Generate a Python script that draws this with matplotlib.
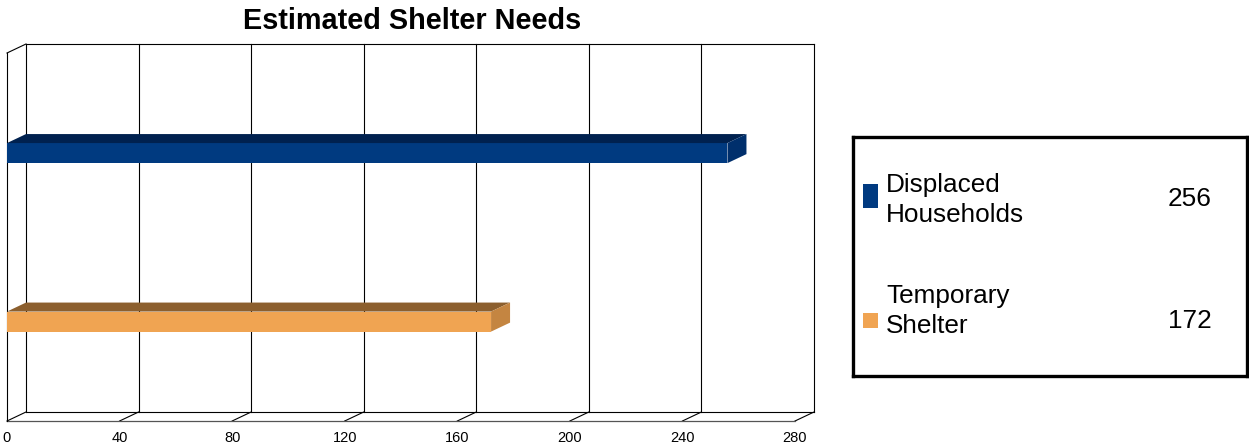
import matplotlib
matplotlib.use("Agg")
import matplotlib.pyplot as plt
from matplotlib.patches import Polygon, Rectangle

plt.rcParams["font.family"] = ["Liberation Sans", "DejaVu Sans"]

# data
categories = ["Temporary\nShelter", "Displaced\nHouseholds"]
values = [172, 256]
front_colors = ["#F0A452", "#003A80"]
top_colors = ["#8C5F2E", "#00214F"]
side_colors = ["#C48541", "#002F6C"]
xticks = [0, 40, 80, 120, 160, 200, 240, 280]

W, H = 1249, 447
fig = plt.figure(figsize=(W / 100, H / 100), dpi=100)

# front plane of the pseudo-3d box, in pixel geometry
fx0, fx1, fy_bot, fy_top = 7, 795, 421, 53
ax = fig.add_axes((fx0 / W, (H - fy_bot) / H, (fx1 - fx0) / W, (fy_bot - fy_top) / H))
ax.set_xlim(0, 280)
y0, y1 = -0.59, 1.594
ax.set_ylim(y0, y1)
for s in ax.spines.values():
    s.set_visible(False)
ax.set_yticks([])
ax.set_xticks(xticks)
ax.set_xticklabels([str(t) for t in xticks], fontsize=10.5)
ax.tick_params(axis="x", length=0, pad=7)
ax.patch.set_alpha(0)

# depth offset (about 19 px right, 9 px up)
DX = 19 / ((fx1 - fx0) / 280)
DY = 9 / ((fy_bot - fy_top) / (y1 - y0))

kw = dict(color="#000000", lw=0.8, clip_on=False, zorder=1)
kw_floor = dict(color="#555555", lw=0.9, clip_on=False, zorder=1)
# back wall verticals and floor
for t in xticks:
    ax.plot([t + DX, t + DX], [y0 + DY, y1 + DY], **kw)
    ax.plot([t, t + DX], [y0, y0 + DY], **kw)
ax.plot([DX, 280 + DX], [y1 + DY, y1 + DY], **kw)
ax.plot([DX, 280 + DX], [y0 + DY, y0 + DY], **kw)
ax.plot([0, 280], [y0, y0], **kw_floor)
ax.plot([0, 0], [y0, y1], **kw)
ax.plot([0, DX], [y1, y1 + DY], **kw)

# bars
bh = 0.119
for i, v in enumerate(values):
    yb, yt = i - bh / 2, i + bh / 2
    ax.barh(i, v, height=bh, color=front_colors[i], zorder=3)
    ax.add_patch(Polygon([(0, yt), (v, yt), (v + DX, yt + DY), (DX, yt + DY)],
                         closed=True, facecolor=top_colors[i], edgecolor="none",
                         zorder=3, clip_on=False))
    ax.add_patch(Polygon([(v, yb), (v + DX, yb + DY), (v + DX, yt + DY), (v, yt)],
                         closed=True, facecolor=side_colors[i], edgecolor="none",
                         zorder=3, clip_on=False))

fig.text(412 / W, 1 - 29 / H, "Estimated Shelter Needs", ha="center", va="baseline",
         fontsize=20.8, fontweight="bold")

# legend box
lx0, lx1, ly0, ly1 = 853, 1247, 137, 376
lax = fig.add_axes((lx0 / W, (H - ly1) / H, (lx1 - lx0) / W, (ly1 - ly0) / H))
lax.set_xlim(0, lx1 - lx0)
lax.set_ylim(ly1 - ly0, 0)
lax.set_xticks([])
lax.set_yticks([])
for s in lax.spines.values():
    s.set_linewidth(2.4)
    s.set_color("black")

rows = [(1, 47, 71, 63, 62), (0, 176, 191, 174, 184)]
for i, mt, mb, ty, vy in rows:
    lax.add_patch(Rectangle((10, mt), 15, mb - mt, facecolor=front_colors[i], edgecolor="none"))
    lax.text(33, ty, categories[i], ha="left", va="center", fontsize=18.8, linespacing=1.32)
    lax.text(337, vy, str(values[i]), ha="center", va="center", fontsize=18.8)

fig.savefig("out.png", dpi=100)
